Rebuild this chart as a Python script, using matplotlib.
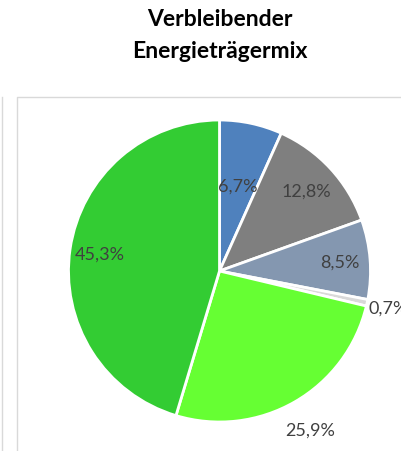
import matplotlib
matplotlib.use("Agg")
import matplotlib.pyplot as plt
import numpy as np

# Verbleibender Energieträgermix, Anteile in %
shares = [6.7, 12.8, 8.5, 0.7, 25.9, 45.3]
labels = ["6,7%", "12,8%", "8,5%", "0,7%", "25,9%", "45,3%"]
colors = ["#4F81BD", "#7F7F7F", "#8497B0", "#D9D9D9", "#66FF33", "#33CC33"]
label_dist = [0.58, 0.78, 0.8, 1.14, 1.21, 0.8]

W, H = 401, 452
fig = plt.figure(figsize=(W / 100, H / 100), dpi=100)

# chart frames (gray borders, one cut off at the left)
fig.add_artist(plt.Line2D([1.5 / W, 1.5 / W], [0, 1 - 97.5 / H], color="#D9D9D9", lw=1))
fig.add_artist(plt.Line2D([16.5 / W, 16.5 / W, 1.0], [0, 1 - 97.5 / H, 1 - 97.5 / H],
                          color="#D9D9D9", lw=1))

fig.text(220 / W, 1 - 19 / H, "Verbleibender", ha="center", va="center",
         fontsize=16.5, fontweight="bold", family="Lato", color="black")
fig.text(220 / W, 1 - 52 / H, "Energieträgermix", ha="center", va="center",
         fontsize=16.5, fontweight="bold", family="Lato", color="black")

cx, cy, r = 219.5, 272, 151
ax = fig.add_axes([(cx - r) / W, 1 - (cy + r) / H, 2 * r / W, 2 * r / H])
wedges, _ = ax.pie(shares, colors=colors, startangle=90, counterclock=False,
                   wedgeprops=dict(edgecolor="white", linewidth=2))
ax.set_xlim(-1, 1)
ax.set_ylim(-1, 1)
ax.set_aspect("equal")
ax.axis("off")

for w, lab, d in zip(wedges, labels, label_dist):
    a = np.deg2rad((w.theta1 + w.theta2) / 2)
    ax.text(d * np.cos(a), d * np.sin(a), lab, ha="center", va="center",
            fontsize=13, family="Lato", color="#404040", clip_on=False)

fig.savefig("out.png", dpi=100)
